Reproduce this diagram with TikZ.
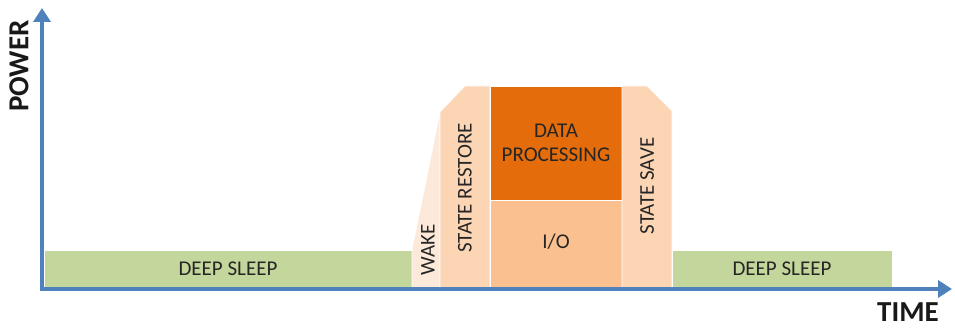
\documentclass[tikz,border=0pt]{standalone}
\usepackage{fontspec}
\setmainfont{Carlito}
\usepackage{tikz}
\usetikzlibrary{arrows.meta}
\definecolor{axisblue}{HTML}{4F81BD}
\definecolor{sleepgreen}{HTML}{C3D69B}
\definecolor{wakepeach}{HTML}{FDE9D9}
\definecolor{statepeach}{HTML}{FCD5B5}
\definecolor{procorange}{HTML}{E46C0A}
\definecolor{iopeach}{HTML}{FAC090}

\begin{document}
\begin{tikzpicture}[x=1pt,y=-1pt,
        phase-box/.style={draw=white,line width=0.6pt},
        phase-label/.style={text=black!85,font=\fontsize{21}{24}\selectfont,align=center},
        axis-line/.style={draw=axisblue,line width=3.5pt,-{Triangle[width=17pt,length=14pt]}},
        axis-label/.style={text=black!90,inner sep=0pt,font=\fontsize{29}{32}\selectfont\bfseries},
    ]
        \useasboundingbox (0,0) rectangle (955,328);

        % phases
        \fill[phase-box,fill=sleepgreen] (44,250) rectangle (412,288);
        \fill[phase-box,fill=wakepeach] (412,288) -- (412,250) -- (440,112) -- (440,288) -- cycle;
        \fill[phase-box,fill=statepeach] (440,288) -- (440,112) -- (465,86) -- (490,86) -- (490,288) -- cycle;
        \fill[phase-box,fill=procorange] (490,86) rectangle (622,200);
        \fill[phase-box,fill=iopeach] (490,200) rectangle (622,288);
        \fill[phase-box,fill=statepeach] (622,288) -- (622,86) -- (647,86) -- (672,111) -- (672,288) -- cycle;
        \fill[phase-box,fill=sleepgreen] (672,250) rectangle (892,288);

        \node[phase-label] (sleep1) at (228,269) {DEEP SLEEP};
        \node[phase-label,rotate=90] (wake) at (428,250) {WAKE};
        \node[phase-label,rotate=90] (restore) at (465,188) {STATE RESTORE};
        \node[phase-label] (proc) at (556,143) {DATA\\PROCESSING};
        \node[phase-label] (io) at (556,242) {I/O};
        \node[phase-label,rotate=90] (save) at (647,186) {STATE SAVE};
        \node[phase-label] (sleep2) at (782,269) {DEEP SLEEP};

        % axes
        \coordinate (origin) at (42,289);
        \coordinate (ytip) at (42,8);
        \coordinate (xtip) at (952,289);
        \draw[axis-line] ([yshift=-2pt]origin) -- (ytip);
        \draw[axis-line] ([xshift=-2pt]origin) -- (xtip);

        \node[axis-label,rotate=90] (power) at (19,66) {POWER};
        \node[axis-label] (time) at (908,312) {TIME};
    \end{tikzpicture}
\end{document}
